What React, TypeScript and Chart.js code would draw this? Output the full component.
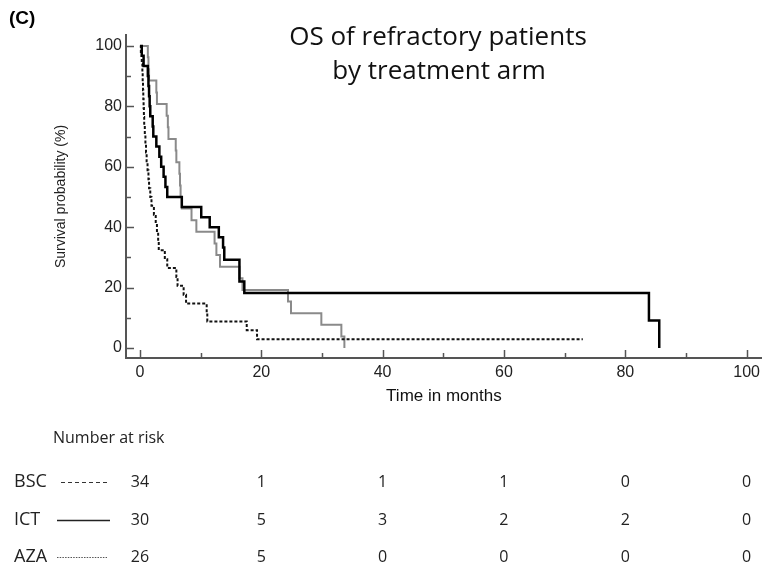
import React, { useEffect, useRef } from "react";
import { Chart, registerables } from "chart.js";

Chart.register(...registerables);

// ---- Data ----
const bscTimes = [0, 0.15, 0.3, 0.4, 0.45, 0.5, 0.55, 0.6, 0.65, 0.7, 0.8, 0.9, 1.0, 1.1, 1.25, 1.4, 1.5, 1.7, 1.9, 2.3, 2.6, 2.8, 3.0, 3.1, 4.1, 4.5, 6.0, 6.2, 7.2, 7.6, 11.0, 11.1, 17.6, 19.3, 73];
const bscSurv = [100, 97.1, 94.1, 91.2, 88.2, 85.3, 82.4, 79.4, 76.5, 73.5, 70.6, 67.6, 64.7, 61.8, 58.8, 55.9, 52.9, 50, 47.1, 44.1, 41.2, 38.2, 35.3, 32.4, 29.4, 26.5, 23.5, 20.6, 17.6, 14.7, 11.8, 8.8, 5.9, 2.9, 2.9];

const ictTimes = [0, 0.3, 0.6, 1.3, 1.4, 1.5, 1.6, 1.7, 2.1, 2.2, 2.7, 3.2, 3.5, 3.9, 4.2, 4.5, 6.9, 10.1, 11.5, 13.0, 13.7, 13.9, 16.4, 17.2, 83.9, 85.6];
const ictSurv = [100, 96.7, 93.3, 90, 86.7, 83.3, 80, 76.7, 73.3, 70, 66.7, 63.3, 60, 56.7, 53.3, 50, 46.7, 43.3, 40, 36.7, 33.3, 29.2, 22.0, 18.2, 9.1, 0];

const azaTimes = [0, 1.3, 1.4, 1.5, 2.7, 2.8, 4.4, 4.6, 4.7, 5.9, 6.0, 6.5, 6.6, 6.7, 6.9, 8.5, 9.3, 12.3, 12.6, 13.2, 16.4, 16.9, 24.4, 24.9, 29.9, 33.2, 33.7];
const azaSurv = [100, 96.2, 92.3, 88.5, 84.6, 80.8, 76.9, 73.1, 69.2, 65.4, 61.5, 57.7, 53.8, 50, 46.2, 42.3, 38.5, 34.6, 30.8, 26.9, 23.1, 19.2, 15.4, 11.5, 7.7, 3.8, 0];

const xTickValues = [0, 10, 20, 30, 40, 50, 60, 70, 80, 90, 100];
const yTickValues = [0, 10, 20, 30, 40, 50, 60, 70, 80, 90, 100];

const riskTimes = [0, 20, 40, 60, 80, 100];
const bscRisk = [34, 1, 1, 1, 0, 0];
const ictRisk = [30, 5, 3, 2, 2, 0];
const azaRisk = [26, 5, 0, 0, 0, 0];

const titleLines = ["OS of refractory patients", "by treatment arm"];

const toPoints = (t: number[], s: number[]) => t.map((x, i) => ({ x, y: s[i] }));

const SANS = "'Liberation Sans', Arial, sans-serif";
const HUMAN = "'Open Sans', 'Noto Sans', sans-serif";

const decorPlugin = {
  id: "decor",
  afterDraw(chart: any) {
    const { ctx, chartArea } = chart;
    const xs = chart.scales.x;
    const ys = chart.scales.y;
    ctx.save();
    // inward ticks
    ctx.strokeStyle = "#555";
    ctx.lineWidth = 1.5;
    xTickValues.forEach((v) => {
      const px = Math.round(xs.getPixelForValue(v)) + 0.5;
      const len = v % 20 === 0 ? 8 : 5;
      ctx.beginPath();
      ctx.moveTo(px, chartArea.bottom);
      ctx.lineTo(px, chartArea.bottom - len);
      ctx.stroke();
    });
    yTickValues.forEach((v) => {
      const py = Math.round(ys.getPixelForValue(v)) + 0.5;
      const len = v % 20 === 0 ? 8 : 5;
      ctx.beginPath();
      ctx.moveTo(chartArea.left, py);
      ctx.lineTo(chartArea.left + len, py);
      ctx.stroke();
    });

    // panel label
    ctx.fillStyle = "#000";
    ctx.font = `bold 19px ${SANS}`;
    ctx.textAlign = "left";
    ctx.textBaseline = "middle";
    ctx.fillText("(C)", 9, 19);

    // title
    ctx.font = `26px ${HUMAN}`;
    ctx.textAlign = "center";
    ctx.fillStyle = "#111";
    ctx.fillText(titleLines[0], 438, 38);
    ctx.fillText(titleLines[1], 439, 72);

    // risk table
    ctx.fillStyle = "#222";
    ctx.font = `16px ${HUMAN}`;
    ctx.textAlign = "left";
    ctx.fillText("Number at risk", 53, 438);

    const rows = [
      { label: "BSC", vals: bscRisk, y: 482, dash: [4, 3], width: 1.2, color: "#333", x0: 61, x1: 110 },
      { label: "ICT", vals: ictRisk, y: 520, dash: [], width: 1.5, color: "#222", x0: 57, x1: 110 },
      { label: "AZA", vals: azaRisk, y: 557, dash: [1.5, 1.2], width: 1, color: "#555", x0: 57, x1: 107 },
    ];
    rows.forEach((r) => {
      ctx.font = `18px ${HUMAN}`;
      ctx.textAlign = "left";
      ctx.fillStyle = "#222";
      ctx.fillText(r.label, 14, r.y);
      ctx.save();
      ctx.strokeStyle = r.color;
      ctx.lineWidth = r.width;
      ctx.setLineDash(r.dash);
      ctx.beginPath();
      ctx.moveTo(r.x0, r.y + 0.5);
      ctx.lineTo(r.x1, r.y + 0.5);
      ctx.stroke();
      ctx.restore();
      ctx.font = `16px ${HUMAN}`;
      ctx.textAlign = "center";
      r.vals.forEach((v, i) => {
        ctx.fillText(String(v), xs.getPixelForValue(riskTimes[i]), r.y);
      });
    });
    ctx.restore();
  },
};

export default function App() {
  const ref = useRef<HTMLCanvasElement | null>(null);
  useEffect(() => {
    document.body.style.margin = "0";
    const canvas = ref.current;
    if (!canvas) return;
    const chart = new Chart(canvas, {
      type: "line",
      data: {
        datasets: [
          {
            label: "ICT",
            data: toPoints(ictTimes, ictSurv),
            stepped: true,
            borderColor: "#000",
            borderWidth: 2.5,
            pointRadius: 0,
            fill: false,
          },
          {
            label: "BSC",
            data: toPoints(bscTimes, bscSurv),
            stepped: true,
            borderColor: "#111",
            borderWidth: 2,
            borderDash: [3, 2],
            pointRadius: 0,
            fill: false,
          },
          {
            label: "AZA",
            data: toPoints(azaTimes, azaSurv),
            stepped: true,
            borderColor: "#8a8a8a",
            borderWidth: 2,
            pointRadius: 0,
            fill: false,
          },
        ],
      },
      options: {
        animation: false,
        responsive: false,
        maintainAspectRatio: false,
        layout: { padding: { left: 50, top: 35, right: 2, bottom: 151 } },
        plugins: { legend: { display: false }, tooltip: { enabled: false }, title: { display: false } },
        scales: {
          x: {
            type: "linear",
            min: -2.3,
            max: 102.5,
            afterBuildTicks: (s: any) => {
              s.ticks = xTickValues.map((v) => ({ value: v }));
            },
            afterFit: (s: any) => {
              s.height = 60;
            },
            ticks: {
              autoSkip: false,
              maxRotation: 0,
              padding: 5,
              color: "#222",
              font: { family: SANS, size: 16 },
              callback: (v: any) => (Number(v) % 20 === 0 ? String(v) : ""),
            },
            grid: { display: false, drawTicks: false },
            border: { display: true, color: "#555", width: 2 },
            title: {
              display: true,
              text: "Time in months",
              color: "#111",
              font: { family: SANS, size: 17 },
              padding: { top: 0, bottom: 11 },
            },
          },
          y: {
            type: "linear",
            min: -3.3,
            max: 103.6,
            afterBuildTicks: (s: any) => {
              s.ticks = yTickValues.map((v) => ({ value: v }));
            },
            afterFit: (s: any) => {
              s.width = 76;
            },
            ticks: {
              autoSkip: false,
              padding: 4,
              color: "#222",
              font: { family: SANS, size: 16 },
              callback: (v: any) => (Number(v) % 20 === 0 ? String(v) : ""),
            },
            grid: { display: false, drawTicks: false },
            border: { display: true, color: "#555", width: 2 },
            title: {
              display: true,
              text: "Survival probability (%)",
              color: "#222",
              font: { family: SANS, size: 14 },
              padding: { top: 3, bottom: 0 },
            },
          },
        },
      },
      plugins: [decorPlugin],
    });
    return () => chart.destroy();
  }, []);
  return (
    <div style={{ width: 765, height: 569, background: "#fff" }}>
      <canvas ref={ref} width={765} height={569} style={{ display: "block" }} />
    </div>
  );
}
